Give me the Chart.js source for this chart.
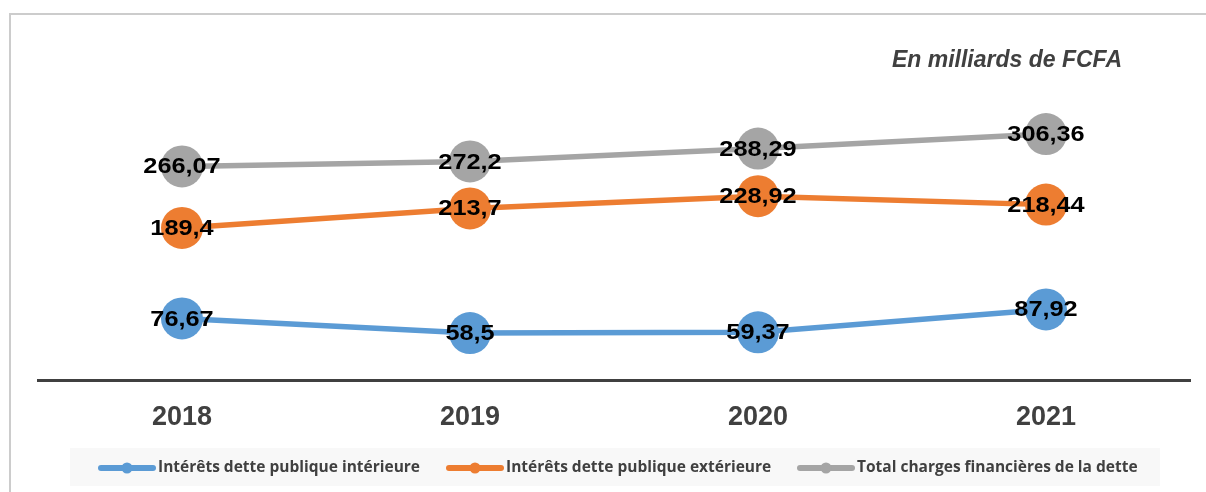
<!DOCTYPE html>
<html>
<head>
<meta charset="utf-8">
<script src="https://cdn.jsdelivr.net/npm/chart.js@4"></script>
<style>
  html, body { margin: 0; padding: 0; background: #fff; }
  #wrap { width: 1206px; height: 492px; position: relative; }
</style>
</head>
<body>
<div id="wrap"><canvas id="mychart" width="1206" height="492"></canvas></div>
<script>
// years on the x axis
var years = ["2018", "2019", "2020", "2021"];

// series, in milliards de FCFA
var interieure = [76.67, 58.5, 59.37, 87.92];
var exterieure = [189.4, 213.7, 228.92, 218.44];
var totalCharges = [266.07, 272.2, 288.29, 306.36];

var seriesNames = [
    "Intérêts dette publique intérieure",
    "Intérêts dette publique extérieure",
    "Total charges financières de la dette"
];
var seriesColors = ["#5B9BD5", "#ED7D31", "#A5A5A5"];

var unitText = "En milliards de FCFA";

// where each legend entry starts
var legendStarts = [98, 446, 797];

function fmt(v) {
    return String(v).replace('.', ',');
}

// frame, unit text and the legend strip
var decorPlugin = {
    id: 'decor',
    beforeDraw: function(chart) {
        var ctx = chart.ctx;
        ctx.save();
        ctx.fillStyle = '#fff';
        ctx.fillRect(0, 0, chart.width, chart.height);
        ctx.strokeStyle = '#cccccc';
        ctx.lineWidth = 2;
        ctx.strokeRect(10, 14, 1230, 500);
        // legend background
        ctx.fillStyle = '#f8f8f8';
        ctx.fillRect(70, 448, 1090, 38);
        ctx.restore();
    },
    afterDraw: function(chart) {
        var ctx = chart.ctx;
        ctx.save();
        // unit
        ctx.fillStyle = '#404040';
        ctx.font = 'italic bold 23px "Liberation Sans", Arial, sans-serif';
        ctx.textAlign = 'right';
        ctx.textBaseline = 'alphabetic';
        ctx.fillText(unitText, 1122, 67);

        // legend
        ctx.font = 'bold 15.5px "Open Sans", sans-serif';
        ctx.textAlign = 'left';
        ctx.textBaseline = 'middle';
        var y = 468;
        chart.data.datasets.forEach(function(ds, i) {
            var x = legendStarts[i];
            ctx.strokeStyle = ds.borderColor;
            ctx.lineWidth = 6;
            ctx.lineCap = 'round';
            ctx.beginPath();
            ctx.moveTo(x + 3, y);
            ctx.lineTo(x + 55, y);
            ctx.stroke();
            ctx.fillStyle = ds.borderColor;
            ctx.beginPath();
            ctx.arc(x + 29, y, 5.5, 0, Math.PI * 2);
            ctx.fill();
            ctx.fillStyle = '#404040';
            ctx.fillText(ds.label, x + 60, y);
        });
        ctx.restore();
    }
};

// value labels centered on the markers
var valueLabels = {
    id: 'valueLabels',
    afterDatasetsDraw: function(chart) {
        var ctx = chart.ctx;
        ctx.save();
        ctx.fillStyle = '#000';
        ctx.font = 'bold 22px "Liberation Sans", Arial, sans-serif';
        ctx.textAlign = 'center';
        ctx.textBaseline = 'middle';
        chart.data.datasets.forEach(function(ds, i) {
            var meta = chart.getDatasetMeta(i);
            meta.data.forEach(function(pt, j) {
                ctx.save();
                ctx.translate(pt.x, pt.y + 1);
                ctx.scale(1.15, 1);
                ctx.fillText(fmt(ds.data[j]), 0, 0);
                ctx.restore();
            });
        });
        ctx.restore();
    }
};

function makeSet(label, data, color) {
    return {
        label: label,
        data: data,
        borderColor: color,
        backgroundColor: color,
        pointBackgroundColor: color,
        pointBorderWidth: 0,
        pointRadius: 21,
        pointHoverRadius: 21,
        borderWidth: 5.5,
        tension: 0
    };
}

var myChart = new Chart(document.getElementById('mychart'), {
    type: 'line',
    data: {
        labels: years,
        datasets: [
            makeSet(seriesNames[0], interieure, seriesColors[0]),
            makeSet(seriesNames[1], exterieure, seriesColors[1]),
            makeSet(seriesNames[2], totalCharges, seriesColors[2])
        ]
    },
    plugins: [decorPlugin, valueLabels],
    options: {
        responsive: false,
        animation: false,
        layout: {
            autoPadding: false,
            padding: { left: 38, right: 16, top: 99, bottom: 0 }
        },
        plugins: {
            legend: { display: false },
            tooltip: { enabled: false }
        },
        scales: {
            x: {
                offset: true,
                grid: { display: false, drawTicks: false },
                border: { display: true, color: '#404040', width: 3 },
                ticks: {
                    color: '#404040',
                    padding: 21,
                    font: { family: '"Liberation Sans", Arial, sans-serif', size: 27, weight: 'bold' }
                },
                afterFit: function(scale) {
                    scale.height = 112;
                    scale.paddingLeft = 0;
                    scale.paddingRight = 0;
                }
            },
            y: {
                display: false,
                min: 0,
                max: 350
            }
        }
    }
});
</script>
</body>
</html>
